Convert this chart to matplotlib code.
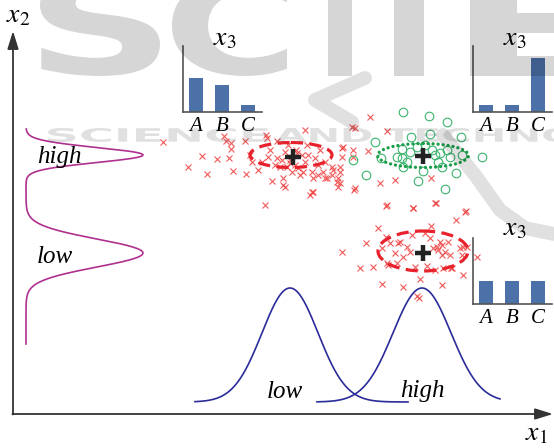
import numpy as np
import matplotlib
matplotlib.use('Agg')
import matplotlib.pyplot as plt
from matplotlib.patches import Ellipse, PathPatch
from matplotlib.textpath import TextPath
from matplotlib.font_manager import FontProperties
from matplotlib.transforms import Affine2D
from matplotlib.path import Path

plt.rcParams['mathtext.fontset'] = 'stix'

W, H = 554, 448

# ---------------- data (schematic units, origin top-left) ----------------
red1_x = [163, 188, 202, 207, 217, 224, 226, 231, 231, 229, 233, 245, 246, 265, 266, 277, 272, 283, 283,
          305, 267, 268, 277, 250, 252, 258, 292, 295, 300, 305, 308, 312, 313, 318, 325, 332, 337, 340,
          342, 310, 313, 287, 297, 302, 288, 307, 325, 332, 282, 290, 298, 303, 318, 323, 340, 338, 285,
          370, 355, 387, 343, 353, 368, 342, 333, 338, 340, 327, 312, 355, 380, 395, 387, 413, 435, 465,
          431, 285, 296, 290, 280, 275, 262, 270, 315, 320, 353, 352]
red1_y = [142, 167, 156, 174, 159, 136, 141, 143, 149, 158, 171, 141, 174, 205, 135, 141, 181, 178, 185,
          130, 138, 157, 158, 155, 162, 170, 172, 165, 175, 162, 155, 172, 178, 175, 178, 175, 182, 167,
          148, 195, 192, 167, 153, 155, 145, 145, 162, 167, 160, 160, 168, 172, 165, 172, 172, 187, 187,
          117, 128, 131, 147, 150, 151, 157, 170, 178, 183, 178, 192, 188, 183, 180, 205, 208, 203, 212,
          178, 152, 150, 163, 167, 165, 162, 150, 158, 150, 157, 127]

red3_x = [354, 386, 413, 436, 466, 456, 431, 378, 386, 366, 342, 412, 425, 430, 398, 407, 403, 395, 382,
          373, 388, 415, 427, 433, 438, 442, 445, 448, 450, 442, 460, 463, 467, 477, 463, 443, 451, 442,
          403, 382, 360, 397, 387, 419, 417, 420, 435, 452, 440, 437, 390, 400, 410, 462]
red3_y = [190, 206, 208, 203, 211, 220, 226, 228, 237, 243, 252, 235, 233, 238, 243, 247, 257, 253, 248,
          267, 265, 267, 266, 248, 250, 245, 252, 242, 255, 255, 248, 247, 247, 257, 275, 268, 268, 285,
          287, 284, 268, 263, 263, 298, 296, 279, 270, 268, 242, 247, 243, 242, 252, 255]

green_x = [403, 429, 447, 430, 411, 461, 375, 381, 397, 402, 410, 417, 425, 432, 440, 447, 450, 462, 482,
           353, 403, 407, 438, 442, 423, 456, 366, 418, 445, 402, 435]
green_y = [112, 116, 122, 134, 137, 137, 142, 158, 157, 149, 152, 147, 145, 150, 153, 150, 157, 155, 157,
           160, 167, 162, 162, 167, 171, 173, 175, 181, 189, 158, 155]

mean_x = [293, 423, 423]
mean_y = [157, 156, 253]

# covariance ellipses: centre, width, height
ell_cx = [291, 423, 423]
ell_cy = [155, 155.5, 251]
ell_w = [82, 91, 90]
ell_h = [25, 24, 40]

# marginal densities along x2 (drawn vertically)
x2_base, x2_amp = 26, 117
x2_high_mu, x2_high_sd = 155, 7.5
x2_low_mu, x2_low_sd = 253, 14
x2_span = (129, 344)

# marginal densities along x1
x1_base, x1_amp = 402, 114
x1_low_mu, x1_low_sd, x1_low_span = 290, 28, (195, 408)
x1_high_mu, x1_high_sd, x1_high_span = 422, 29, (317, 500)

# categorical distributions of x3
cats = ['A', 'B', 'C']
x3_cluster1 = [0.5, 0.4, 0.1]
x3_cluster2 = [0.1, 0.1, 0.8]
x3_cluster3 = [1 / 3, 1 / 3, 1 / 3]

# ---------------- figure ----------------
fig = plt.figure(figsize=(5.54, 4.48), dpi=100)
ax = fig.add_axes([0, 0, 1, 1])
ax.set_xlim(0, W)
ax.set_ylim(H, 0)
ax.axis('off')

serif_it = dict(family='Liberation Serif', style='italic')

# axes arrows
arrow = dict(arrowstyle='-|>,head_length=0.9,head_width=0.28', color='#333333', lw=1.3,
             mutation_scale=12, shrinkA=0, shrinkB=0)
ax.annotate('', xy=(13, 31), xytext=(13, 414.5), arrowprops=arrow)
ax.annotate('', xy=(553, 414), xytext=(12.4, 414), arrowprops=arrow)
ax.text(18, 22, r'$x_2$', fontsize=20, ha='center', va='baseline')
ax.text(536, 440, r'$x_1$', fontsize=20, ha='center', va='baseline')

# vertical mixture density
ys = np.linspace(x2_span[0], x2_span[1], 500)
xs = x2_base + x2_amp * (np.exp(-0.5 * ((ys - x2_high_mu) / x2_high_sd) ** 2)
                         + np.exp(-0.5 * ((ys - x2_low_mu) / x2_low_sd) ** 2))
ax.plot(xs, ys, color='#b0308f', lw=1.2)
ax.text(59, 163, 'high', fontsize=18, ha='center', va='baseline', **serif_it)
ax.text(55, 263, 'low', fontsize=18, ha='center', va='baseline', **serif_it)

# horizontal densities
for mu, sd, span in [(x1_low_mu, x1_low_sd, x1_low_span), (x1_high_mu, x1_high_sd, x1_high_span)]:
    xx = np.linspace(span[0], span[1], 400)
    yy = x1_base - x1_amp * np.exp(-0.5 * ((xx - mu) / sd) ** 2)
    ax.plot(xx, yy, color='#2b2b9a', lw=1.2)
ax.text(285, 398, 'low', fontsize=18, ha='center', va='baseline', **serif_it)
ax.text(422, 397, 'high', fontsize=18, ha='center', va='baseline', **serif_it)

# scatter points
ax.plot(red1_x, red1_y, 'x', color='#f03c3c', ms=5, mew=0.8, alpha=0.85, zorder=3)
ax.plot(red3_x, red3_y, 'x', color='#f03c3c', ms=5, mew=0.8, alpha=0.85, zorder=3)
ax.plot(green_x, green_y, 'o', mfc='none', mec='#3cb46e', ms=6.2, mew=0.8, zorder=3)

# ellipses
styles = [dict(ec='#e8222c', lw=2.3, ls=(0, (3.8, 2.0))),
          dict(ec='#1a9e4a', lw=2.4, ls=(0, (0.01, 1.5))),
          dict(ec='#e8222c', lw=2.3, ls=(0, (3.8, 2.0)))]
for cx, cy, w, h, st in zip(ell_cx, ell_cy, ell_w, ell_h, styles):
    e = Ellipse((cx, cy), w, h, fill=False, zorder=4, **st)
    if st['ls'][1][0] < 0.1:
        e.set_capstyle('round')
    ax.add_patch(e)

ax.plot(mean_x, mean_y, '+', color='#222222', ms=11, mew=3.2, zorder=5)

# x3 insets
bar_color = '#4c70a8'


def inset(l, r, t, b, vals, title_y):
    a = fig.add_axes([l / W, 1 - b / H, (r - l) / W, (b - t) / H])
    a.bar(range(3), vals, width=0.53, color=bar_color)
    a.set_xlim(-0.5, 2.54)
    a.set_ylim(0, 0.97)
    a.patch.set_alpha(0)
    for s in ['top', 'right']:
        a.spines[s].set_visible(False)
    for s in ['left', 'bottom']:
        a.spines[s].set_color('#555555')
        a.spines[s].set_linewidth(1.2)
    a.set_yticks([])
    a.set_xticks(range(3))
    a.set_xticklabels(cats, fontsize=15, **serif_it)
    a.tick_params(axis='x', length=0, pad=3.5)
    ax.text((l + r) / 2 + 2, title_y, r'$x_3$', fontsize=20, ha='center', va='baseline')
    return a


inset(183, 262, 46, 112, x3_cluster1, 45)
inset(473, 552, 46, 112, x3_cluster2, 45)
inset(473, 552, 238, 304, x3_cluster3, 235)

# ---------------- watermark overlay ----------------
wm = fig.add_axes([0, 0, 1, 1], zorder=20)
wm.set_xlim(0, W)
wm.set_ylim(H, 0)
wm.axis('off')
wm.patch.set_alpha(0)
fp = FontProperties(family='DejaVu Sans', weight='bold')


def boxed_text(s, x0, x1, ytop, ybot, alpha):
    tp = TextPath((0, 0), s, size=100, prop=fp)
    bb = tp.get_extents()
    tr = (Affine2D().translate(-bb.x0, -bb.y0)
          .scale((x1 - x0) / bb.width, -(ybot - ytop) / bb.height)
          .translate(x0, ybot))
    p = tr.transform_path(tp)
    wm.add_patch(PathPatch(p, fc='black', ec='none', alpha=alpha))


for s, x0, x1 in [('S', 40, 160), ('C', 172, 287), ('I', 328, 352), ('T', 356, 462), ('E', 470, 600)]:
    boxed_text(s, x0, x1, -25, 76, 0.16)
for s, x0, x1 in [('SCIENCE', 48, 268), ('AND', 276, 371), ('TECHNOLOGY', 385, 700)]:
    boxed_text(s, x0, x1, 128, 142, 0.12)
wm.plot([365, 315, 352], [78, 100, 122], color='black', alpha=0.12, lw=10,
        solid_capstyle='round', solid_joinstyle='round')
wm.plot([443, 475, 500, 525, 554], [135, 175, 210, 228, 234], color='black', alpha=0.12, lw=10,
        solid_capstyle='round', solid_joinstyle='round')

fig.savefig('out.png', dpi=100)
